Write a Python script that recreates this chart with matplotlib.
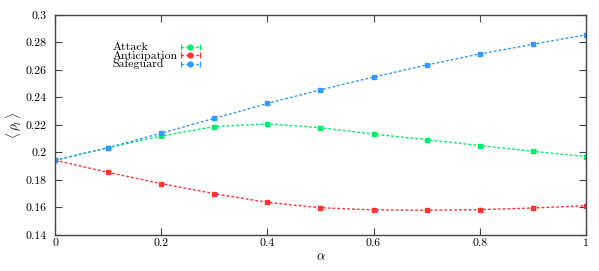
import matplotlib
matplotlib.use("Agg")
import matplotlib.pyplot as plt
from matplotlib.lines import Line2D
from matplotlib.legend_handler import HandlerLine2D, HandlerTuple

alpha = [0.0, 0.1, 0.2, 0.3, 0.4, 0.5, 0.6, 0.7, 0.8, 0.9, 1.0]
attack = [0.1943, 0.2035, 0.2119, 0.2188, 0.2208, 0.2180, 0.2133, 0.2093, 0.2050, 0.2008, 0.1970]
attack_err = [0.0008, 0.0008, 0.0010, 0.0012, 0.0015, 0.0012, 0.0012, 0.0010, 0.0010, 0.0010, 0.0010]
anticip = [0.1943, 0.1855, 0.1773, 0.1700, 0.1637, 0.1598, 0.1582, 0.1580, 0.1584, 0.1596, 0.1612]
anticip_err = [0.0008, 0.0008, 0.0008, 0.0008, 0.0010, 0.0010, 0.0010, 0.0012, 0.0012, 0.0015, 0.0015]
safeg = [0.1943, 0.2035, 0.2140, 0.2248, 0.2356, 0.2455, 0.2548, 0.2636, 0.2716, 0.2786, 0.2855]
safeg_err = [0.0008, 0.0008, 0.0008, 0.0008, 0.0008, 0.0008, 0.0008, 0.0008, 0.0008, 0.0010, 0.0012]

names = ["Attack", "Anticipation", "Safeguard"]
colors = ["#00ee66", "#ff3333", "#3399ff"]

plt.rcParams["font.family"] = ["cmr10", "DejaVu Serif"]
plt.rcParams["mathtext.fontset"] = "cm"
plt.rcParams["axes.formatter.use_mathtext"] = True

fig = plt.figure(figsize=(5.99, 2.71), dpi=100)
ax = fig.add_axes([0.092, 0.133, 0.886, 0.812])

dash = (0, (2, 1.5))
for ys, es, c, n in zip([attack, anticip, safeg], [attack_err, anticip_err, safeg_err], colors, names):
    ax.errorbar(alpha, ys, yerr=es, color=c, ls=dash, lw=1.0,
                marker="s", ms=3.3, capsize=1.8, elinewidth=0.8, capthick=0.8)

ax.set_xlim(0, 1)
ax.set_ylim(0.14, 0.3)
ax.set_xticks([0, 0.2, 0.4, 0.6, 0.8, 1.0])
ax.set_xticklabels(["0", "0.2", "0.4", "0.6", "0.8", "1"])
ax.set_yticks([0.14, 0.16, 0.18, 0.2, 0.22, 0.24, 0.26, 0.28, 0.3])
ax.set_yticklabels(["0.14", "0.16", "0.18", "0.2", "0.22", "0.24", "0.26", "0.28", "0.3"])
ax.tick_params(direction="in", top=True, right=True, length=5, width=0.8,
               labelsize=8.5, color="#444444")
ax.tick_params(axis="x", pad=2.5)
ax.tick_params(axis="y", pad=6)
for s in ax.spines.values():
    s.set_color("#444444")
    s.set_linewidth(1.0)

ax.set_xlabel(r"$\alpha$", fontsize=9.5, labelpad=2)
ax.set_ylabel(r"$\langle\,\rho_l\,\rangle$", fontsize=9.5, labelpad=1)

# legend: left-aligned labels, then samples to the right
lfs = 8.6
lsp = -0.18
ytop = 0.877
blank = [Line2D([], [], lw=0, marker="") for _ in names]
leg1 = ax.legend(blank, names, loc="upper left", bbox_to_anchor=(0.108, ytop),
                 frameon=False, fontsize=lfs, handlelength=0, handletextpad=0,
                 labelspacing=lsp, borderpad=0, borderaxespad=0)
ax.add_artist(leg1)

handles = []
hmap = {}
for c in colors:
    body = Line2D([], [], color=c, ls=dash, lw=1.0, marker="o", ms=3.5)
    caps = Line2D([], [], color=c, ls="none", marker="|", ms=5, mew=0.9)
    hmap[body] = HandlerLine2D(numpoints=1)
    hmap[caps] = HandlerLine2D(numpoints=2, marker_pad=0)
    handles.append((caps, body))
hmap[tuple] = HandlerTuple(ndivide=1)
leg2 = ax.legend(handles, ["", "", ""], loc="upper left", bbox_to_anchor=(0.237, ytop - 0.005),
                 frameon=False, fontsize=lfs, handlelength=1.6, handletextpad=0,
                 labelspacing=lsp, borderpad=0, borderaxespad=0, handler_map=hmap)

fig.savefig("out.png", dpi=100)
